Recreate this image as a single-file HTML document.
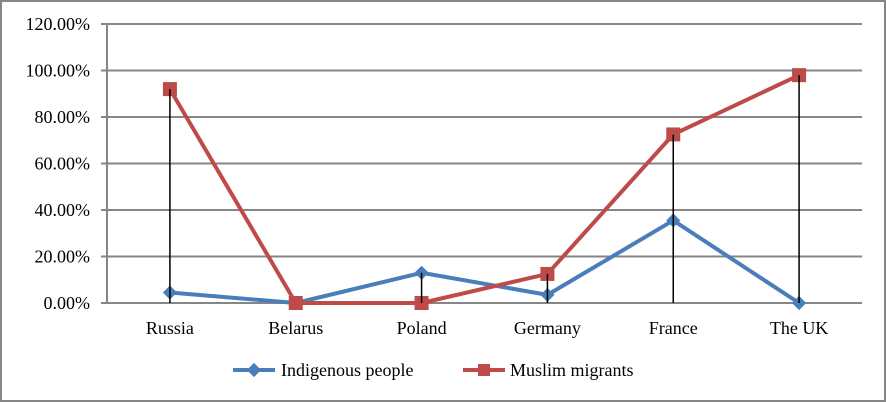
<!DOCTYPE html>
<html><head><meta charset="utf-8"><style>
body{margin:0;background:#fff}
svg{display:block;font-family:"Liberation Serif",serif}
</style></head><body>
<svg id="c" width="886" height="402">
<rect x="1" y="1" width="884" height="400" fill="#fff" stroke="#868686" stroke-width="2"/>
<g id="grid"></g><g id="drops"></g><g id="series"></g><g id="labels"></g>
<g>
<g>
<line x1="233" y1="370" x2="275" y2="370" stroke="#4a7ebb" stroke-width="4"/>
<rect x="249" y="365" width="10" height="10" fill="#4a7ebb" transform="rotate(45 254 370)"/>
<text x="281" y="376" font-size="18">Indigenous people</text></g>
<g>
<line x1="463" y1="370" x2="505" y2="370" stroke="#be4b48" stroke-width="4"/>
<rect x="478" y="364" width="12" height="12" fill="#be4b48"/>
<text x="510" y="376" font-size="18">Muslim migrants</text></g>
</g>
</svg>
<script>
const categories=["Russia","Belarus","Poland","Germany","France","The UK"];
const indigenous=[4.5,0,13,3.5,35.5,0];
const muslim=[92,0,0,12.5,72.5,98];
const yTicks=[0,20,40,60,80,100,120];
const NS="http://www.w3.org/2000/svg";
const X0=107,X1=862,Y0=303,Y1=24;
const xs=i=>X0+(X1-X0)/categories.length*(i+0.5);
const ys=v=>Y0-(Y0-Y1)*v/120;
function mk(t,a,p){const e=document.createElementNS(NS,t);for(const k in a)e.setAttribute(k,a[k]);p.appendChild(e);return e;}
const g=document.getElementById('grid'),d=document.getElementById('drops'),s=document.getElementById('series'),l=document.getElementById('labels');
yTicks.forEach(v=>{
const ln=mk('line',{x1:101,x2:X1,y1:ys(v),y2:ys(v),stroke:'#868686','stroke-width':2},g);


const t=mk('text',{x:90,y:ys(v)+6,'text-anchor':'end','font-size':18},l);
t.textContent=v.toFixed(2)+'%';


});
const ax=mk('line',{x1:X0,x2:X0,y1:Y1,y2:Y0,stroke:'#868686','stroke-width':2},g);


categories.forEach((c,i)=>{
const t=mk('text',{x:xs(i),y:334,'text-anchor':'middle','font-size':18},l);
t.textContent=c;


const m=Math.max(indigenous[i],muslim[i]);
if(m>0){const dl=mk('line',{x1:xs(i),x2:xs(i),y1:ys(m),y2:Y0,stroke:'#000','stroke-width':1.5},d);

}
});
function line(arr,col,name){
const p=mk('polyline',{points:arr.map((v,i)=>xs(i)+','+ys(v)).join(' '),fill:'none',stroke:col,'stroke-width':4,'stroke-linejoin':'round'},s);


}
line(indigenous,'#4a7ebb','indigenous');
line(muslim,'#be4b48','muslim');
indigenous.forEach((v,i)=>{
const r=mk('rect',{x:xs(i)-5,y:ys(v)-5,width:10,height:10,fill:'#4a7ebb',transform:`rotate(45 ${xs(i)} ${ys(v)})`},s);


});
muslim.forEach((v,i)=>{
const r=mk('rect',{x:xs(i)-7,y:ys(v)-7,width:14,height:14,fill:'#be4b48'},s);


});
s.parentNode.insertBefore(d,null);
</script>
</body></html>
